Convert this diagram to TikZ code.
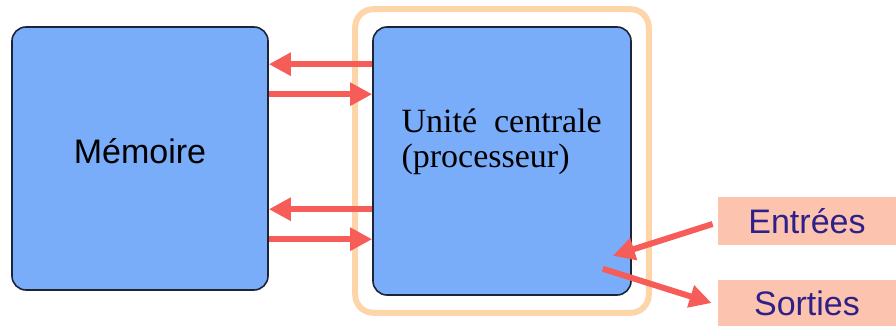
\documentclass[tikz,border=0pt]{standalone}
\usepackage{fontspec}
\setmainfont{Liberation Serif}
\setsansfont{Liberation Sans}
\usetikzlibrary{calc,positioning,arrows.meta,fit,shapes}
\definecolor{boxblue}{HTML}{7AADF9}
\definecolor{boxline}{HTML}{1C2438}
\definecolor{framepeach}{HTML}{FDD5A8}
\definecolor{arrred}{HTML}{F65C58}
\definecolor{labfill}{HTML}{FCC4AE}
\definecolor{labtext}{HTML}{2E2088}
\begin{document}
\begin{tikzpicture}[x=0.5pt,y=-0.5pt,
  unit/.style={draw=boxline,line width=0.8pt,fill=boxblue,rounded corners=7pt,inner sep=0pt},
  io/.style={fill=labfill,text=labtext,inner sep=0pt,minimum width=89pt,font=\sffamily\fontsize{17}{20}\selectfont},
  arr/.style={draw=arrred,line width=3pt,-{Triangle[length=11pt,width=11pt]}},
  every fit/.style={draw=framepeach,line width=3pt,rounded corners=9pt,inner sep=8.5pt}]
  \useasboundingbox (0,0) rectangle (896,326);
  \node[unit,minimum width=128pt,minimum height=131.5pt] (mem) at (140,158.5) {};
  \node[font=\sffamily\fontsize{17}{20}\selectfont,inner sep=0pt] (memlab) at ([yshift=3.5pt]mem.center) {M\'emoire};
  \node[unit,minimum width=129pt,minimum height=134pt] (cpu) at (502,161) {};
  \node[fit=(cpu)] (frame) {};
  \node[anchor=base west,align=left,inner sep=0pt,font=\fontsize{17}{17.5}\selectfont] (cpulab) at ([xshift=14.5pt,yshift=-70.5pt]cpu.north west) {Unit\'e\ \ centrale\\(processeur)};

  \node[io,minimum height=24pt] (in) at (807,221) {Entr\'ees};
  \node[io,minimum height=23pt] (out) at (807,303) {Sorties};

  % bus memoire <-> unite centrale
  \draw[arr] ([yshift=-19pt]cpu.north west) -- ([yshift=-19pt]mem.north east);
  \draw[arr] ([yshift=-34pt]mem.north east) -- ([yshift=-34pt]cpu.north west);
  \draw[arr] ([yshift=-91.5pt]cpu.north west) -- ([yshift=-91.5pt]mem.north east);
  \draw[arr] ([yshift=-106.5pt]mem.north east) -- ([yshift=-106.5pt]cpu.north west);

  % entrees / sorties
  \coordinate (inend) at ([xshift=-9.5pt,yshift=20pt]cpu.south east);
  \coordinate (outbeg) at ([xshift=-14.5pt,yshift=13.5pt]cpu.south east);
  \draw[arr] ([xshift=-2.5pt,yshift=-1.5pt]in.west) -- (inend);
  \draw[arr] (outbeg) -- ([xshift=-3pt]out.west);
\end{tikzpicture}
\end{document}
